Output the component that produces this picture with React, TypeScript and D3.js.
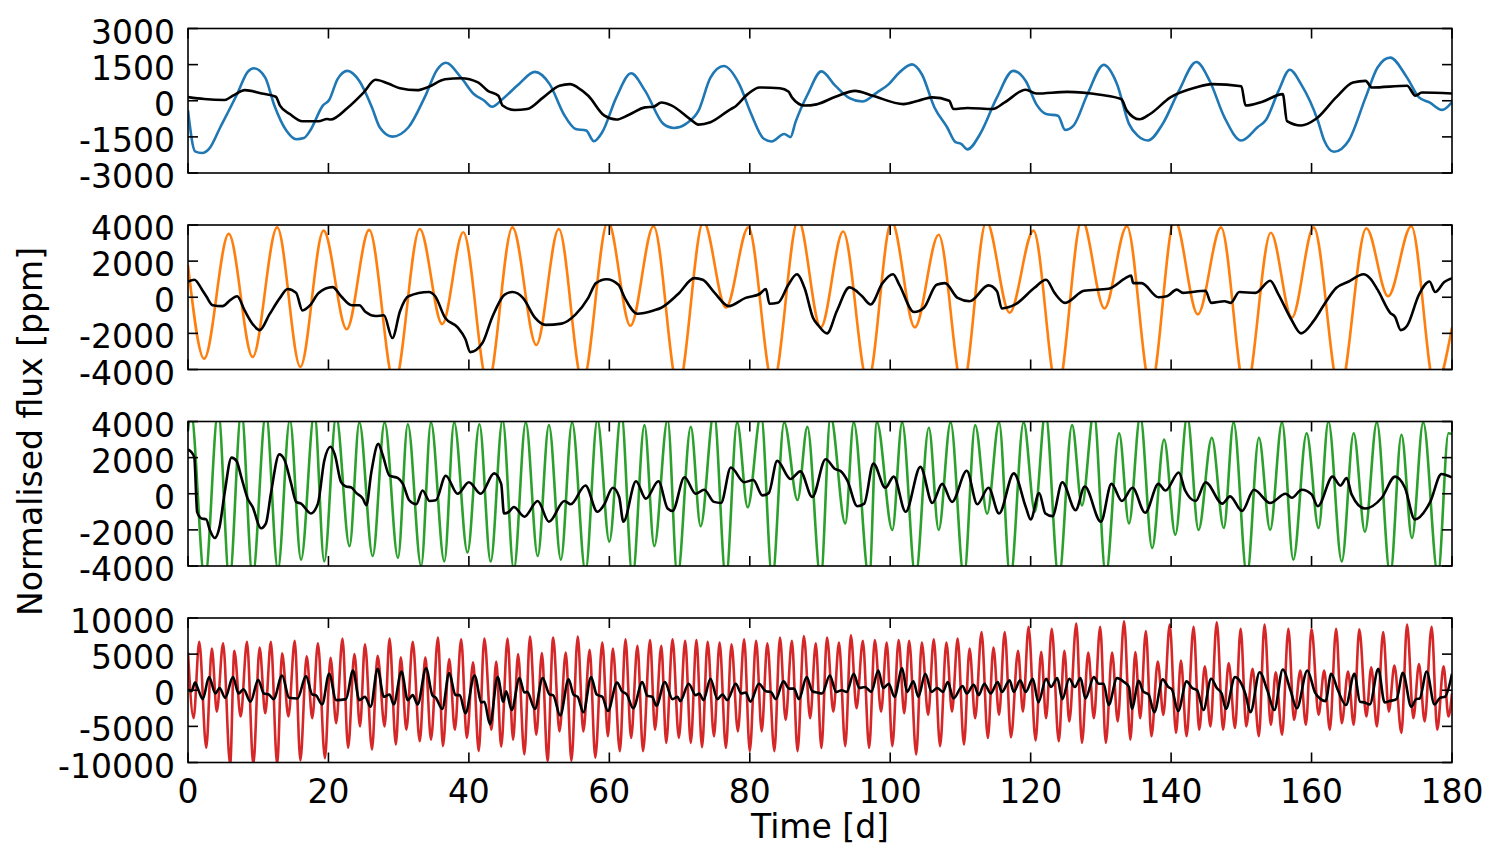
import * as d3 from "d3"

type Pt = [number, number]

// x axis (days) and per-panel y ticks
const X_TICKS = [0, 20, 40, 60, 80, 100, 120, 140, 160, 180]
const P1_TICKS = [-3000, -1500, 0, 1500, 3000]
const P2_TICKS = [-4000, -2000, 0, 2000, 4000]
const P3_TICKS = [-4000, -2000, 0, 2000, 4000]
const P4_TICKS = [-10000, -5000, 0, 5000, 10000]

// panel 1
const blueFlux: Pt[] = [
  [0, -400], [1.0, -2100], [2.0, -2170], [3.0, -2000], [4.6, -1100], [7.0, 280], [8.5, 1200], [9.4, 1350],
  [11.0, 960], [12.3, -200], [14.0, -1240], [15.4, -1600], [16.5, -1550], [17.4, -1240], [19.2, -200], [20.1, 30],
  [21.3, 900], [22.7, 1240], [24.4, 820], [26.2, -280], [27.3, -1100], [29.1, -1490], [31.4, -1100], [33.7, 140],
  [35.5, 1300], [36.7, 1580], [38.9, 960], [40.7, 280], [42.2, 0], [43.3, -250], [44.8, 70], [47.1, 690],
  [49.4, 1200], [51.5, 690], [53.5, -550], [55.2, -1170], [56.7, -1240], [57.8, -1680], [59.0, -1300], [61.0, 140],
  [63.1, 1140], [65.1, 410], [67.7, -960], [69.2, -1130], [70.9, -960], [72.7, -410], [74.4, 960], [76.3, 1440],
  [78.5, 690], [80.2, -550], [82.0, -1580], [83.1, -1690], [84.9, -1380], [85.8, -1510], [86.5, -900], [88.3, 300],
  [90.2, 1220], [92.2, 620], [94.2, 110], [96.0, -30], [98.1, 340], [99.8, 690], [101.3, 1170], [103.1, 1510],
  [104.5, 1100], [106.3, -280], [108.1, -1100], [109.3, -1720], [110.1, -1790], [111.0, -2020], [112.8, -1380], [115.2, 140],
  [117.5, 1240], [119.3, 820], [120.8, -140], [122.2, -550], [123.9, -620], [124.9, -1210], [126.1, -1030], [128.1, 280],
  [130.4, 1490], [132.3, 690], [134.0, -960], [135.2, -1440], [136.7, -1650], [138.8, -960], [141.1, 410], [143.6, 1610],
  [145.5, 820], [147.6, -690], [150.0, -1650], [152.3, -1100], [153.5, -800], [155.3, 410], [156.9, 1290], [158.5, 690],
  [160.9, -830], [161.8, -1650], [163.2, -2120], [165.3, -1650], [167.7, 140], [169.4, 1380], [171.2, 1790], [173.6, 960],
  [175.3, 140], [176.8, -70], [178.6, -380], [180, -50],
]
const blueTrend: Pt[] = [
  [0, 150], [2.3, 70], [5.2, 30], [6.4, 210], [8.1, 440], [10.5, 300], [12.5, 165], [13.1, -200],
  [14.5, -550], [16.3, -850], [18.6, -850], [19.8, -760], [20.3, -780], [22.7, -300], [25.0, 340], [26.7, 870],
  [28.5, 715], [30.2, 520], [32.6, 440], [34.3, 580], [36.6, 895], [38.9, 935], [41.3, 760], [42.7, 410],
  [44.2, 210], [44.8, -200], [46.5, -385], [48.3, -345], [50.6, 140], [52.9, 620], [54.4, 690], [55.5, 550],
  [57.0, 210], [59.3, -620], [61.0, -780], [62.8, -580], [65.1, -275], [66.3, -250], [67.4, -70], [68.9, -200],
  [71.5, -760], [72.7, -990], [74.4, -890], [77.3, -345], [77.9, -250], [79.7, 275], [81.4, 550], [84.3, 520],
  [85.5, 385], [86.0, 140], [87.8, -200], [89.5, -150], [92.2, 165], [95.0, 410], [97.5, 210], [101.9, -140],
  [104.0, 0], [106.0, 140], [108.4, 0], [109.0, -345], [111.0, -300], [114.6, -345], [116.3, -70], [119.3, 455],
  [120.8, 300], [125.2, 370], [129.9, 250], [132.9, 70], [133.7, -410], [135.5, -770], [137.0, -550], [139.9, 140],
  [143.5, 550], [145.8, 690], [150.0, 600], [150.6, -200], [153.0, -40], [155.9, 275], [156.5, -850], [158.5, -1030],
  [160.6, -760], [163.5, 140], [165.9, 760], [167.7, 825], [168.6, 550], [173.6, 620], [174.8, 210], [175.7, 340],
  [180, 300],
]

// panel 2
const orangeFlux: Pt[] = [
  [0, 1780], [2.3, -3400], [5.8, 3510], [9.2, -3310], [12.7, 3870], [16.0, -3850], [19.3, 3690], [22.6, -1770],
  [25.8, 3730], [29.4, -4800], [33.0, 3780], [36.2, -1490], [39.2, 3600], [42.7, -4800], [46.2, 3870], [49.6, -2640],
  [52.8, 3780], [56.2, -4700], [59.8, 4200], [63.0, -1580], [66.3, 3930], [69.8, -5000], [73.4, 4200], [76.6, -580],
  [79.8, 3870], [83.3, -4800], [86.9, 4300], [90.1, -1670], [93.3, 3640], [96.8, -4700], [100.2, 4200], [103.5, -1670],
  [106.9, 3460], [110.3, -5000], [113.7, 4200], [117.0, -860], [120.4, 3690], [123.8, -5200], [127.3, 4300], [130.5, -620],
  [133.7, 3930], [137.1, -5000], [140.5, 4300], [143.8, -950], [147.1, 3870], [150.6, -5300], [154.2, 3570], [157.2, -1130],
  [160.3, 3870], [164.0, -5200], [167.8, 3820], [170.9, 55], [174.2, 3930], [177.6, -5000], [180, -1670],
]
const orangeTrend: Pt[] = [
  [0, 870], [0.9, 965], [2.0, 420], [2.6, 55], [3.5, -440], [4.9, -490], [6.1, -130], [7.0, 55],
  [8.1, -760], [9.3, -1530], [10.2, -1820], [11.6, -950], [13.1, -35], [14.2, 455], [15.4, 240], [16.3, -730],
  [17.4, -440], [18.6, 240], [20.6, 560], [21.8, 55], [23.3, -440], [24.4, -440], [25.3, -820], [26.7, -1040],
  [27.9, -1000], [29.1, -2260], [30.2, -760], [31.4, 55], [34.3, 290], [35.2, 55], [36.6, -1130], [38.4, -1670],
  [39.5, -2310], [40.2, -3040], [41.9, -2550], [43.3, -1130], [45.1, 145], [46.2, 290], [47.7, -35], [49.4, -1130],
  [50.9, -1530], [53.2, -1460], [55.2, -950], [57.0, -35], [58.1, 780], [59.6, 1000], [61.3, 690], [62.2, -35],
  [64.0, -910], [66.3, -730], [67.4, -580], [69.8, 180], [72.1, 1060], [73.3, 965], [75.0, 240], [77.0, -490],
  [79.4, -35], [81.4, 180], [82.3, 455], [82.8, -360], [84.0, -310], [85.5, 690], [86.7, 1270], [87.8, 510],
  [89.0, -1130], [89.8, -1580], [91.0, -2000], [92.4, -760], [94.2, 545], [96.0, 55], [97.2, -400], [98.9, 780],
  [100.4, 1270], [101.3, 690], [103.4, -820], [104.8, -580], [106.6, 690], [107.8, 780], [109.6, -35], [111.3, -220],
  [114.0, 655], [115.2, 330], [115.9, -620], [117.8, -400], [120.5, 510], [122.2, 965], [123.4, 240], [124.9, -310],
  [127.6, 360], [131.1, 470], [133.5, 1060], [134.3, 1200], [134.6, 780], [135.8, 780], [138.2, 0], [139.4, 55],
  [140.8, 420], [141.7, 240], [144.9, 360], [145.7, -310], [147.6, -220], [148.5, -310], [149.7, 290], [152.0, 240],
  [154.1, 910], [155.3, 145], [157.1, -1220], [158.5, -2000], [160.3, -1310], [161.8, -400], [163.5, 510], [165.3, 870],
  [167.4, 1270], [168.3, 1060], [169.4, 420], [171.2, -860], [171.9, -1090], [172.7, -1820], [173.6, -1580], [175.3, 145],
  [176.8, 870], [177.6, 290], [178.9, 840], [180, 1060],
]

// panel 3
const greenFlux: Pt[] = [
  [0, 3500], [0.4, 4600], [2.4, -4800], [4.3, 4600], [5.9, -4800], [7.6, 4600], [9.2, -4600], [11.1, 4500],
  [12.8, -4200], [14.5, 4100], [16.1, -3650], [18.0, 4500], [19.4, -3750], [21.1, 4300], [23.0, -2900], [24.4, 3950],
  [26.3, -3450], [28.0, 3950], [29.9, -3550], [31.3, 3850], [33.2, -4000], [34.6, 3950], [36.5, -3750], [37.9, 3950],
  [39.8, -3250], [41.5, 3850], [43.1, -3750], [44.8, 4100], [46.4, -4200], [48.1, 3950], [49.8, -3450], [51.4, 3800],
  [53.1, -3650], [54.7, 3950], [56.6, -4300], [58.3, 4100], [60.0, -2650], [61.7, 4500], [63.3, -4600], [65.0, 3800],
  [66.4, -2900], [68.3, 4100], [69.7, -4600], [71.6, 3700], [73.0, -1800], [74.9, 4500], [76.6, -4700], [78.2, 3950],
  [79.7, -750], [81.6, 4400], [83.2, -4700], [84.9, 3950], [86.8, -350], [88.2, 3700], [90.1, -4700], [91.5, 4300],
  [93.6, -1650], [94.8, 3950], [97.0, -4700], [98.1, 3950], [100.3, -2000], [101.7, 3950], [103.6, -4600], [105.5, 3650],
  [106.9, -2000], [108.6, 3950], [110.5, -4600], [112.1, 3800], [113.8, -1100], [115.5, 3950], [117.1, -4700], [119.0, 3950],
  [120.6, -1000], [122.1, 4500], [124.0, -4700], [125.9, 3800], [127.3, -650], [129.0, 4500], [130.7, -4500], [132.6, 3350],
  [134.0, -1650], [135.6, 4300], [137.3, -3000], [139.0, 3000], [140.6, -2270], [142.3, 4300], [143.9, -2000], [145.8, 3100],
  [147.5, -1900], [148.9, 3950], [150.8, -4500], [152.5, 3100], [154.1, -2000], [155.8, 3950], [157.4, -3650], [159.3, 3350],
  [161.0, -1900], [162.4, 4000], [164.3, -3750], [166.0, 3350], [167.6, -2100], [169.3, 3950], [171.2, -4500], [172.8, 3270],
  [174.3, -2450], [175.9, 3950], [178.0, -4500], [179.5, 3350], [180, 3300],
]
const greenTrend: Pt[] = [
  [0, 2450], [0.5, 2300], [0.9, 2000], [1.3, -1000], [1.9, -1360], [2.6, -1420], [3.1, -2000], [3.8, -2450],
  [4.5, -1820], [5.2, 0], [6.2, 2000], [6.9, 1820], [7.6, 910], [8.5, -270], [9.2, -730], [10.4, -1910],
  [11.1, -1640], [11.8, 0], [13.0, 2180], [13.7, 1910], [14.7, 545], [15.4, -450], [16.1, -545], [17.5, -1090],
  [18.5, -545], [19.4, 1820], [20.3, 2600], [20.9, 2180], [21.8, 640], [22.5, 400], [23.2, 360], [24.0, 35],
  [24.9, -270], [25.4, -640], [26.1, 1180], [27.1, 2760], [27.7, 2180], [28.7, 1000], [29.9, 870], [30.6, 545],
  [31.5, -360], [32.5, -580], [33.4, 180], [34.4, -400], [35.3, -360], [36.7, 1000], [38.4, 0], [40.0, 640],
  [41.7, 0], [43.6, 1130], [44.6, 545], [45.0, -1090], [45.7, -1000], [46.4, -730], [47.9, -1270], [49.8, -400],
  [51.4, -1550], [53.6, -400], [54.5, -580], [56.6, 455], [58.3, -1000], [59.2, -640], [60.5, 330], [61.4, -180],
  [62.0, -1550], [63.8, 690], [65.2, -270], [67.0, 690], [68.3, -820], [69.0, -950], [70.7, 910], [72.3, 0],
  [73.5, 220], [74.9, -450], [75.9, -510], [77.3, 1450], [79.2, 640], [80.5, 760], [81.8, -90], [82.7, 35],
  [83.9, 1820], [85.8, 820], [87.2, 1240], [88.9, -180], [90.8, 1910], [92.2, 1360], [92.9, 1270], [93.9, 730],
  [95.3, -690], [96.3, -545], [97.6, 1670], [99.3, 330], [100.5, 950], [102.2, -1000], [104.3, 1490], [106.0, -510],
  [107.4, 545], [108.8, -450], [110.9, 1270], [112.4, -580], [114.0, 330], [115.5, -1090], [117.6, 1130], [119.3, -730],
  [120.0, -1420], [121.2, 35], [122.1, -1090], [123.1, -1240], [124.5, 640], [126.4, -910], [127.7, 400], [130.0, -1550],
  [131.5, 545], [133.0, -400], [134.5, 330], [136.3, -1050], [138.2, 545], [139.2, 180], [141.1, 1180], [142.0, 180],
  [143.5, -400], [144.9, 640], [147.3, -545], [148.4, -145], [150.1, -950], [151.8, 220], [154.1, -510], [156.3, 0],
  [157.2, -220], [158.6, 220], [160.0, -35], [160.9, -690], [163.0, 950], [164.1, 455], [165.0, 870], [165.7, -35],
  [167.6, -820], [170.0, -220], [171.9, 950], [173.3, 330], [174.7, -1420], [176.9, -450], [178.5, 1090], [179.7, 950],
  [180, 900],
]

// panel 4
const redFlux: Pt[] = [
  [0, 5200], [0.8, -3870], [1.6, 6700], [2.6, -7960], [3.4, 5780], [4.1, -2960], [5.0, 6500], [6.0, -10300],
  [6.6, 5460], [7.5, -3640], [8.4, 6700], [9.3, -10300], [10.2, 5900], [11.0, -3190], [11.8, 6700], [12.7, -10300],
  [13.4, 5100], [14.3, -3640], [15.2, 6830], [16.0, -9700], [16.9, 4700], [17.7, -3870], [18.5, 6500], [19.5, -9400],
  [20.3, 4500], [21.1, -4550], [22.0, 7140], [22.8, -7960], [23.7, 5000], [24.5, -5000], [25.2, 6370], [26.2, -8190],
  [27.0, 4780], [28.0, -5000], [28.7, 7140], [29.6, -7500], [30.3, 4550], [31.1, -5460], [32.0, 6700], [33.0, -7050],
  [33.8, 4550], [34.6, -6830], [35.6, 7280], [36.3, -7730], [37.2, 4320], [38.0, -5460], [38.9, 7050], [39.7, -6600],
  [40.6, 3870], [41.4, -8420], [42.2, 7140], [43.2, -5460], [43.9, 3960], [44.6, -7800], [45.5, 7140], [46.3, -6830],
  [47.0, 5000], [47.9, -8870], [48.7, 7420], [49.6, -6140], [50.4, 5140], [51.2, -9780], [52.0, 7280], [52.9, -5690],
  [53.8, 5230], [54.6, -9780], [55.5, 7420], [56.3, -5690], [57.2, 5600], [58.0, -9330], [59.0, 6600], [59.8, -6370],
  [60.5, 5780], [61.5, -8420], [62.3, 7050], [63.1, -6600], [64.0, 6140], [64.8, -8420], [65.8, 6960], [66.5, -5460],
  [67.4, 6140], [68.1, -7280], [69.0, 7050], [69.9, -6600], [70.8, 6830], [71.6, -7280], [72.4, 6960], [73.2, -7870],
  [74.0, 6700], [74.9, -6370], [75.7, 6600], [76.6, -7960], [77.4, 6370], [78.3, -5690], [79.2, 7050], [80.0, -8420],
  [80.9, 6830], [81.7, -5690], [82.5, 6500], [83.5, -8420], [84.3, 7280], [85.1, -4100], [86.0, 6830], [86.8, -8420],
  [87.7, 7500], [88.6, -3870], [89.4, 6500], [90.2, -8000], [91.0, 7280], [91.9, -2960], [92.7, 6600], [93.6, -7730],
  [94.4, 7600], [95.2, -2500], [96.1, 6830], [97.0, -7960], [97.8, 6960], [98.7, -2960], [99.5, 6600], [100.3, -7730],
  [101.2, 6960], [102.0, -3190], [102.7, 6830], [103.7, -8870], [104.5, 6600], [105.4, -3410], [106.2, 7050], [107.1, -7730],
  [108.0, 6600], [108.8, -2960], [109.6, 7140], [110.5, -7500], [111.3, 5780], [112.1, -3870], [113.0, 8050], [113.9, -6600],
  [114.7, 5910], [115.5, -3410], [116.3, 8050], [117.2, -6510], [118.2, 5460], [118.9, -2960], [119.7, 8780], [120.7, -6960],
  [121.5, 5320], [122.2, -3870], [123.0, 8510], [124.0, -7050], [124.8, 5460], [125.5, -4320], [126.5, 9240], [127.3, -7280],
  [128.2, 5230], [129.0, -3870], [129.9, 8780], [130.7, -7280], [131.6, 5230], [132.4, -4320], [133.3, 9560], [134.2, -6830],
  [134.9, 5300], [135.6, -3870], [136.4, 8190], [137.2, -6370], [138.1, 3960], [138.9, -3410], [139.8, 9100], [140.7, -5910],
  [141.4, 4100], [142.2, -6370], [143.2, 8780], [144.0, -5460], [144.8, 3320], [145.6, -5000], [146.5, 9420], [147.4, -5460],
  [148.2, 3780], [149.1, -5230], [149.9, 8510], [150.7, -5000], [151.6, 2960], [152.5, -6370], [153.3, 9100], [154.2, -4780],
  [154.9, 2500], [155.8, -6140], [156.7, 8510], [157.5, -4100], [158.4, 2730], [159.2, -4780], [160.0, 8510], [161.0, -3410],
  [161.8, 2730], [162.6, -5460], [163.5, 8510], [164.3, -4550], [165.2, 2600], [166.0, -4780], [166.8, 8420], [167.8, -3640],
  [168.5, 3190], [169.3, -5000], [170.2, 8050], [171.0, -2960], [171.8, 3410], [172.8, -5910], [173.6, 9100], [174.5, -3870],
  [175.3, 3640], [176.1, -4320], [177.1, 8780], [177.9, -5460], [178.8, 3320], [179.5, -3640], [180, -450],
]
const redTrend: Pt[] = [
  [0, 100], [0.5, -140], [1.0, 1050], [1.5, 0], [2.1, -1230], [3.0, 1820], [3.9, -450], [4.5, 320],
  [5.3, -1050], [6.4, 1820], [7.2, -450], [7.9, 140], [8.9, -1590], [10.0, 1460], [10.8, -450], [11.5, -590],
  [12.2, -1230], [13.4, 2050], [14.4, -1050], [15.6, -1140], [16.8, 1960], [17.7, -590], [18.2, -680], [19.1, -1960],
  [20.1, 2280], [21.1, -1370], [22.5, -1230], [23.5, 2730], [24.4, -1370], [25.2, -910], [26.0, -2280], [27.0, 2960],
  [27.9, -910], [28.7, -590], [29.3, -1960], [30.4, 2590], [31.3, -1370], [32.0, -680], [32.7, -1960], [33.9, 3050],
  [34.8, -680], [35.3, -1050], [36.2, -2590], [37.2, 2370], [38.1, -680], [38.7, -680], [39.5, -3190], [40.8, 2050],
  [41.8, -1680], [42.2, -1590], [43.0, -4690], [44.1, 1820], [44.9, -1590], [45.3, -140], [46.1, -2730], [47.2, 1680],
  [47.9, -320], [48.3, -230], [49.4, -2590], [50.5, 1680], [51.5, -590], [52.0, -680], [53.0, -3500], [54.2, 1500],
  [54.9, -590], [55.5, -910], [56.3, -3050], [57.4, 1820], [58.2, -590], [59.0, -910], [59.8, -2870], [61.1, 1050],
  [61.8, -140], [62.5, -590], [63.4, -2500], [64.7, 1140], [65.4, -770], [66.1, -910], [66.7, -2140], [67.9, 1140],
  [69.0, -1230], [69.7, -910], [70.1, -1500], [71.3, 910], [72.3, -680], [72.8, -450], [73.4, -1370], [74.4, 1590],
  [75.4, -1230], [76.1, -590], [76.8, -1370], [78.0, 910], [78.8, -450], [79.4, -320], [80.1, -1590], [81.3, 910],
  [82.3, -140], [83.0, -230], [83.7, -1230], [84.8, 1230], [85.6, 230], [86.3, 230], [87.0, -1230], [88.1, 1820],
  [88.9, -140], [89.6, -320], [90.3, -450], [91.4, 2050], [92.3, -230], [93.1, 0], [93.8, -230], [94.8, 2280],
  [95.6, 320], [96.4, 450], [97.3, -230], [98.3, 2730], [99.0, 320], [99.8, 910], [100.6, -910], [101.7, 3050],
  [102.4, -230], [103.3, 1230], [104.0, -910], [105.0, 2280], [105.9, -230], [106.7, 320], [107.5, -230], [108.2, 1140],
  [109.0, -1140], [110.3, 590], [110.9, -450], [111.9, 770], [112.6, -680], [113.4, 910], [114.3, -450], [115.3, 1140],
  [115.9, -230], [117.0, 1370], [117.6, -230], [118.5, 1370], [119.3, -230], [120.3, 1590], [121.1, -1680], [122.2, 1590],
  [122.9, 450], [123.8, 1680], [124.5, -1230], [125.5, 1590], [126.3, 450], [127.1, 1680], [127.8, -1140], [129.0, 1820],
  [129.7, 910], [130.4, 910], [131.1, -2050], [132.3, 1680], [133.3, 1140], [134.0, 450], [134.4, -2590], [135.4, 1300],
  [136.0, -140], [136.8, -590], [137.6, -3050], [138.8, 1500], [139.6, 450], [140.1, 140], [141.0, -2870], [142.2, 1230],
  [143.0, 320], [143.7, 0], [144.6, -2730], [145.7, 1590], [146.5, 320], [147.2, -450], [147.8, -2590], [149.1, 1820],
  [150.0, 910], [150.6, -590], [151.3, -3050], [152.6, 2500], [153.7, 0], [154.7, -2730], [155.9, 2870], [157.0, 0],
  [157.9, -2500], [159.4, 2730], [160.5, -320], [161.3, -1230], [162.0, -1500], [162.8, 2280], [163.7, 140], [164.9, -2050],
  [166.1, 2280], [166.9, -1590], [167.5, -1680], [168.3, -1960], [169.5, 2960], [170.4, -1680], [171.1, -1500], [172.1, -1230],
  [173.0, 2410], [174.2, -2280], [174.9, -1230], [175.4, -1140], [176.4, 2590], [177.5, -1960], [178.3, -1050], [179.0, -910],
  [180, 2280],
]

const PANELS = [
  { flux: blueFlux, trend: blueTrend, colour: "#1f77b4", ticks: P1_TICKS },
  { flux: orangeFlux, trend: orangeTrend, colour: "#ff7f0e", ticks: P2_TICKS },
  { flux: greenFlux, trend: greenTrend, colour: "#2ca02c", ticks: P3_TICKS },
  { flux: redFlux, trend: redTrend, colour: "#d62728", ticks: P4_TICKS },
]

const W = 1500
const H = 863
const LEFT = 188
const RIGHT = 1452
const TOP0 = 28.5
const PANEL_H = 144.5
const STEP = 196.5
const TICK = 10
const FONT = 33

export default function App() {
  const x = d3.scaleLinear().domain([0, 180]).range([LEFT, RIGHT])

  return (
    <svg
      width={W}
      height={H}
      style={{ position: "absolute", left: 0, top: 0, background: "#fff" }}
      fontFamily="'DejaVu Sans', sans-serif"
    >
      <defs>
        {PANELS.map((_, i) => (
          <clipPath id={`clip-${i}`} key={i}>
            <rect x={LEFT} y={TOP0 + i * STEP} width={RIGHT - LEFT} height={PANEL_H} />
          </clipPath>
        ))}
      </defs>

      {PANELS.map((p, i) => {
        const top = TOP0 + i * STEP
        const bottom = top + PANEL_H
        const lo = p.ticks[0]
        const hi = p.ticks[p.ticks.length - 1]
        const y = d3.scaleLinear().domain([lo, hi]).range([bottom, top])
        const line = d3
          .line<Pt>()
          .x((d) => x(d[0]))
          .y((d) => y(d[1]))
          .curve(d3.curveMonotoneX)
        const last = i === PANELS.length - 1

        return (
          <g key={i}>
            <g clipPath={`url(#clip-${i})`}>
              <path d={line(p.flux) ?? ""} fill="none" stroke={p.colour} strokeWidth={2.6} strokeLinejoin="round" />
              <path d={line(p.trend) ?? ""} fill="none" stroke="#000" strokeWidth={2.6} strokeLinejoin="round" />
            </g>

            {/* frame */}
            <rect x={LEFT} y={top} width={RIGHT - LEFT} height={PANEL_H} fill="none" stroke="#000" strokeWidth={1.6} />

            {/* x ticks, inward top and bottom */}
            {X_TICKS.map((t) => (
              <g key={`x${t}`} stroke="#000" strokeWidth={1.6}>
                <line x1={x(t)} x2={x(t)} y1={top} y2={top + TICK} />
                <line x1={x(t)} x2={x(t)} y1={bottom} y2={bottom - TICK} />
              </g>
            ))}

            {/* y ticks, inward left and right */}
            {p.ticks.map((v) => (
              <g key={`y${v}`}>
                <line x1={LEFT} x2={LEFT + TICK} y1={y(v)} y2={y(v)} stroke="#000" strokeWidth={1.6} />
                <line x1={RIGHT} x2={RIGHT - TICK} y1={y(v)} y2={y(v)} stroke="#000" strokeWidth={1.6} />
                <text x={LEFT - 13} y={y(v) + 15} textAnchor="end" fontSize={FONT} fill="#000">
                  {v}
                </text>
              </g>
            ))}

            {last &&
              X_TICKS.map((t) => (
                <text key={`xl${t}`} x={x(t)} y={bottom + 40} textAnchor="middle" fontSize={FONT} fill="#000">
                  {t}
                </text>
              ))}
          </g>
        )
      })}

      <text x={(LEFT + RIGHT) / 2} y={838} textAnchor="middle" fontSize={FONT} fill="#000">
        Time [d]
      </text>
      <text transform="translate(42,431.5) rotate(-90)" textAnchor="middle" fontSize={FONT} fill="#000">
        Normalised flux [ppm]
      </text>
    </svg>
  )
}
